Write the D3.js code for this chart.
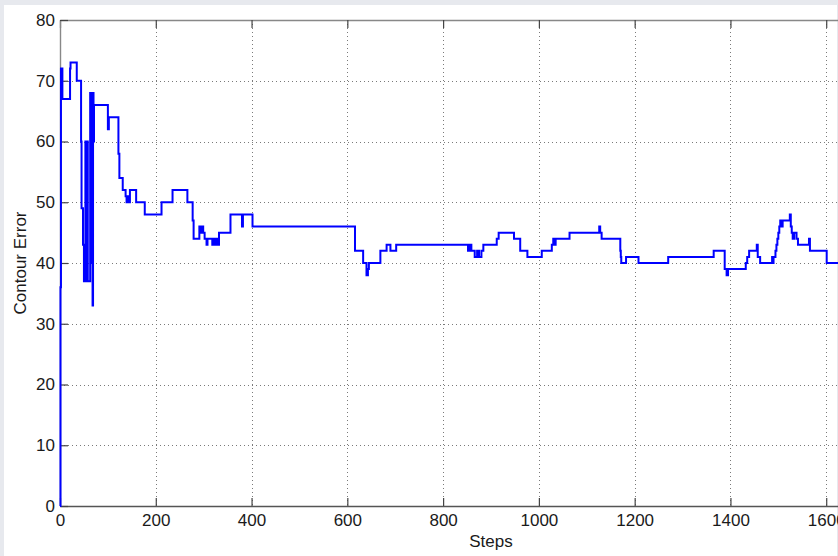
<!DOCTYPE html>
<html>
<head>
<meta charset="utf-8">
<script src="https://cdn.jsdelivr.net/npm/d3@7"></script>
<style>
  html, body { margin: 0; padding: 0; background: #e7e9ee; }
  svg { display: block; }
  text { font-family: "Liberation Sans", Arial, Helvetica, sans-serif; }
</style>
</head>
<body>
<svg id="chart" width="838" height="556"></svg>
<script>
// step where the error changes, and the error value from that step on
const stepStarts = [
  0, 1, 2, 3, 4, 5, 21, 22, 35, 44, 45, 48, 50, 53, 55, 56, 58, 63, 64, 65,
  66, 67, 68, 69, 70, 71, 100, 102, 122, 124, 131, 137, 139, 141, 143, 146,
  159, 177, 212, 235, 266, 277, 279, 291, 294, 296, 299, 302, 306, 308, 318, 322, 324, 327, 329, 332,
  356, 380, 382, 402, 616, 633, 640, 643, 645, 669, 682, 690, 702, 852, 856, 859, 866, 871, 875, 880,
  884, 912, 916, 948, 961, 976, 1006, 1027, 1030, 1031, 1035, 1064, 1126, 1128, 1131, 1170, 1171, 1172, 1182, 1208,
  1270, 1365, 1388, 1392, 1395, 1432, 1435, 1439, 1455, 1457, 1462, 1487, 1488, 1490, 1494, 1496, 1498, 1500, 1502, 1504,
  1506, 1509, 1524, 1526, 1528, 1530, 1533, 1538, 1541, 1564, 1566, 1601
];
const errorValues = [
  0, 36, 72, 67, 72, 67, 72, 73, 70, 60, 49, 43, 37, 60, 37, 60, 37, 68, 50, 68,
  40, 67, 33, 68, 60, 66, 62, 64, 58, 54, 52, 51, 50, 51, 50, 52,
  50, 48, 50, 52, 50, 47, 44, 46, 45, 46, 45, 44, 43, 44, 43, 44, 43, 44, 43, 45,
  48, 46, 48, 46, 42, 40, 38, 39, 40, 42, 43, 42, 43, 42, 43, 42, 41, 42, 41, 42,
  43, 44, 45, 44, 42, 41, 42, 43, 44, 43, 44, 45, 46, 45, 44, 42, 41, 40, 41, 40,
  41, 42, 39, 38, 39, 40, 41, 42, 43, 41, 40, 41, 40, 41, 42, 43, 44, 45, 46, 47,
  46, 47, 48, 46, 45, 44, 45, 44, 43, 44, 42, 40
];
const lastStep = 1640;

const xTickValues = [0, 200, 400, 600, 800, 1000, 1200, 1400, 1600];
const yTickValues = [0, 10, 20, 30, 40, 50, 60, 70, 80];
const xLabel = "Steps";
const yLabel = "Contour Error";

const svg = d3.select("#chart");
const width = 838, height = 556;
const margin = { top: 20, left: 60 };
const innerWidth = 862;   // the axes run past the right edge of the picture (xlim 0..1800)
const innerHeight = 486;

svg.append("rect").attr("width", width).attr("height", height).attr("fill", "#e7e9ee");
svg.append("rect").attr("x", 4).attr("y", 5).attr("width", width - 5).attr("height", height - 5).attr("fill", "#fff");

const x = d3.scaleLinear().domain([0, 1800]).range([margin.left, margin.left + innerWidth]);
const y = d3.scaleLinear().domain([0, 80]).range([margin.top + innerHeight, margin.top]);

// dotted grid
const grid = svg.append("g").attr("stroke", "#7a7a7a").attr("stroke-width", 1).attr("stroke-dasharray", "1,3");
grid.selectAll("line.v").data(xTickValues.slice(1)).join("line").attr("class", "v")
  .attr("x1", d => Math.round(x(d)) + 0.5).attr("x2", d => Math.round(x(d)) + 0.5)
  .attr("y1", y(80)).attr("y2", y(0));
grid.selectAll("line.h").data(yTickValues.slice(1, -1)).join("line").attr("class", "h")
  .attr("x1", x(0)).attr("x2", x(1800))
  .attr("y1", d => Math.round(y(d)) + 0.5).attr("y2", d => Math.round(y(d)) + 0.5);

// axes, ticks pointing inwards
const styleAxis = (g, col) => {
  g.select(".domain").attr("stroke", col).attr("stroke-width", 1.4);
  g.selectAll(".tick line").attr("stroke", "#444").attr("stroke-width", 1.2);
  g.selectAll(".tick text").attr("fill", "#1a1a1a").attr("font-size", 17);
};
svg.append("g").attr("transform", `translate(0,${y(0)})`)
  .call(d3.axisBottom(x).tickValues(xTickValues).tickFormat(d3.format("d"))
    .tickSizeInner(-8).tickSizeOuter(0).tickPadding(8))
  .call(g => styleAxis(g, "#555"));
svg.append("g").attr("transform", `translate(0,${y(80)})`)
  .call(d3.axisTop(x).tickValues(xTickValues).tickFormat("")
    .tickSizeInner(-8).tickSizeOuter(0))
  .call(g => styleAxis(g, "#888"));
svg.append("g").attr("transform", `translate(${x(0)},0)`)
  .call(d3.axisLeft(y).tickValues(yTickValues).tickFormat(d3.format("d"))
    .tickSizeInner(-8).tickSizeOuter(0).tickPadding(5))
  .call(g => styleAxis(g, "#888"));

// error curve
const points = stepStarts.map((s, i) => [s, errorValues[i]]);
points.push([lastStep, errorValues[errorValues.length - 1]]);
const line = d3.line().x(d => x(d[0])).y(d => y(d[1])).curve(d3.curveStepAfter);
svg.append("path").datum(points)
  .attr("fill", "none").attr("stroke", "#0000ff").attr("stroke-width", 2)
  .attr("stroke-linejoin", "miter")
  .attr("d", line);

// axis titles
svg.append("text").attr("x", (x(0) + x(1800)) / 2).attr("y", 547)
  .attr("text-anchor", "middle").attr("font-size", 17).attr("fill", "#1a1a1a")
  .text(xLabel);
svg.append("text").attr("transform", `translate(26,${(y(0) + y(80)) / 2}) rotate(-90)`)
  .attr("text-anchor", "middle").attr("font-size", 17).attr("fill", "#1a1a1a")
  .text(yLabel);
</script>
</body>
</html>
